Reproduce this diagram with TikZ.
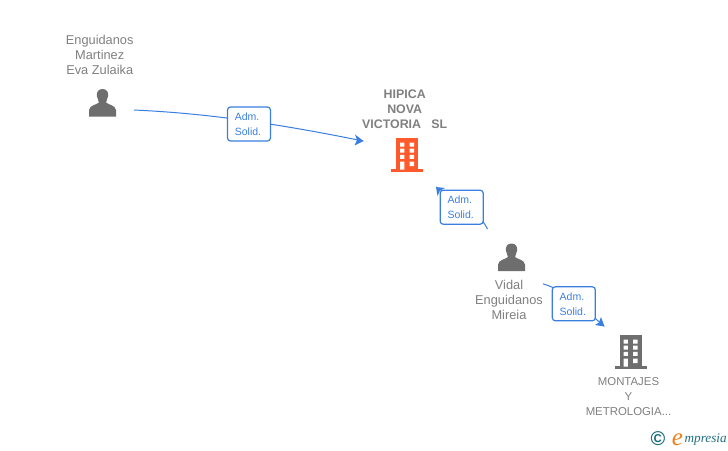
\documentclass[tikz,border=0pt]{standalone}
\usepackage{fontspec}
\setmainfont{Liberation Sans}
\newfontfamily\logofont{Liberation Serif}
\definecolor{txtgrey}{HTML}{808080}
\definecolor{icongrey}{HTML}{6E6E6E}
\definecolor{orangeb}{HTML}{FF5A2B}
\definecolor{linkblue}{HTML}{3A7FDF}
\definecolor{teal2}{HTML}{1F6F7F}
\definecolor{logoorange}{HTML}{F07F1A}
\tikzset{
  entity/.style={align=center,text=txtgrey,font=\fontsize{12.8}{15}\selectfont,inner sep=0pt},
  entityb/.style={align=center,text=txtgrey,font=\fontsize{12.4}{15}\selectfont\bfseries,inner sep=0pt},
  entityc/.style={align=center,text=txtgrey,font=\fontsize{11.4}{15}\selectfont,inner sep=0pt},
  rel/.style={draw=linkblue,fill=white,rounded corners=3pt,line width=1.2pt,minimum width=43pt,minimum height=34pt,inner sep=0pt,align=left,text=linkblue,font=\fontsize{10.5}{15.5}\selectfont},
  conn/.style={draw=linkblue,line width=1pt},
  tip/.style={fill=linkblue,draw=none}
}
\newcommand{\personicon}[2]{%
  \fill[icongrey,shift={(#1,#2)}] (0,-14) .. controls (4.5,-14) and (6,-10.5) .. (5.6,-7)
    .. controls (5.3,-4) and (3.5,-2.5) .. (3.6,-0.5)
    .. controls (5,1.5) and (13,2) .. (13.5,7) -- (13.5,13.5) -- (-13.5,13.5) -- (-13.5,7)
    .. controls (-13,2) and (-5,1.5) .. (-3.6,-0.5)
    .. controls (-3.5,-2.5) and (-5.3,-4) .. (-5.6,-7)
    .. controls (-6,-10.5) and (-4.5,-14) .. (0,-14) -- cycle;}
\newcommand{\buildingicon}[3]{%
  \begin{scope}[shift={(#1,#2)}]
    \fill[#3] (-11,-17) rectangle (11,14.5);
    \fill[#3] (-16,14.3) rectangle (16,17);
    \fill[white] (-7,-12.5) rectangle (-2.6,-8.5) (2.5,-12.5) rectangle (7,-8.5)
      (-7,-6.3) rectangle (-2.6,-2.5) (2.5,-6.3) rectangle (7,-2.5)
      (-7,-0.2) rectangle (-2.6,3.8) (2.5,-0.2) rectangle (7,3.8)
      (-7,6.5) rectangle (-2.6,14.5) (2.5,6.5) rectangle (7,11);
  \end{scope}}
\begin{document}
\begin{tikzpicture}[x=1pt,y=-1pt]
\useasboundingbox (0,0) rectangle (728,450);
\fill[white] (0,0) rectangle (728,450);
\node[inner sep=0pt,outer sep=0pt,minimum width=63pt,minimum height=30pt] (p1) at (102.5,110) {};
\node[inner sep=0pt,outer sep=0pt,minimum width=88pt,minimum height=46pt] (h1) at (407,164) {};
\node[inner sep=0pt,outer sep=0pt,minimum width=64pt,minimum height=56pt] (p2) at (511,257) {};
\node[inner sep=0pt,outer sep=0pt,minimum width=53pt,minimum height=52pt] (m1) at (630.5,352) {};
\personicon{102.5}{103}
\buildingicon{407}{155}{orangeb}
\personicon{511.5}{257.5}
\buildingicon{630.5}{352}{icongrey}
\node[entity] (t1) at (99.7,55) {Enguidanos\\Martinez\\Eva Zulaika};
\node[entityb] (t2) at (404.7,109) {HIPICA\\NOVA\\VICTORIA\ \ \ SL};
\node[entity] (t3) at (509,300) {Vidal\\Enguidanos\\Mireia};
\node[entityc] (t4) at (628.5,396.7) {MONTAJES\\Y\\METROLOGIA...};
\draw[conn] (p1.east) .. controls (200,113) and (270,122) .. (h1.north west);
\draw[conn] (p2.130.6) .. controls (475,205) and (455,200) .. (h1.-38.4);
\draw[conn] (p2.-40.2) .. controls (565,290) and (585,310) .. (m1.north west);
\fill[tip] (363.5,141) -- (355,134.5) -- (357,140) -- (354.5,145.5) -- cycle;
\fill[tip] (436,187) -- (445,188) -- (440,190.5) -- (437.5,196) -- cycle;
\fill[tip] (604.5,326.5) -- (595,325) -- (599,322.5) -- (601,317) -- cycle;
\node[rel] (l1) at (249,124) {\hspace*{-2pt}Adm.\\[-0.5pt]\hspace*{-2pt}Solid.};
\node[rel] (l2) at (461.7,207.2) {\hspace*{-2pt}Adm.\\[-0.5pt]\hspace*{-2pt}Solid.};
\node[rel] (l3) at (573.8,303.8) {\hspace*{-2pt}Adm.\\[-0.5pt]\hspace*{-2pt}Solid.};
\node[inner sep=0pt,text=teal2,font=\fontsize{20}{20}\selectfont\bfseries] (c) at (658,438.5) {©};
\node[inner sep=0pt,text=logoorange,font=\logofont\itshape\fontsize{25}{25}\selectfont] (e) at (677.5,439.5) {e};
\node[inner sep=0pt,anchor=west,text=teal2,font=\logofont\itshape\fontsize{13.2}{14}\selectfont] (m) at (684.5,440) {mpresia};
\end{tikzpicture}
\end{document}
